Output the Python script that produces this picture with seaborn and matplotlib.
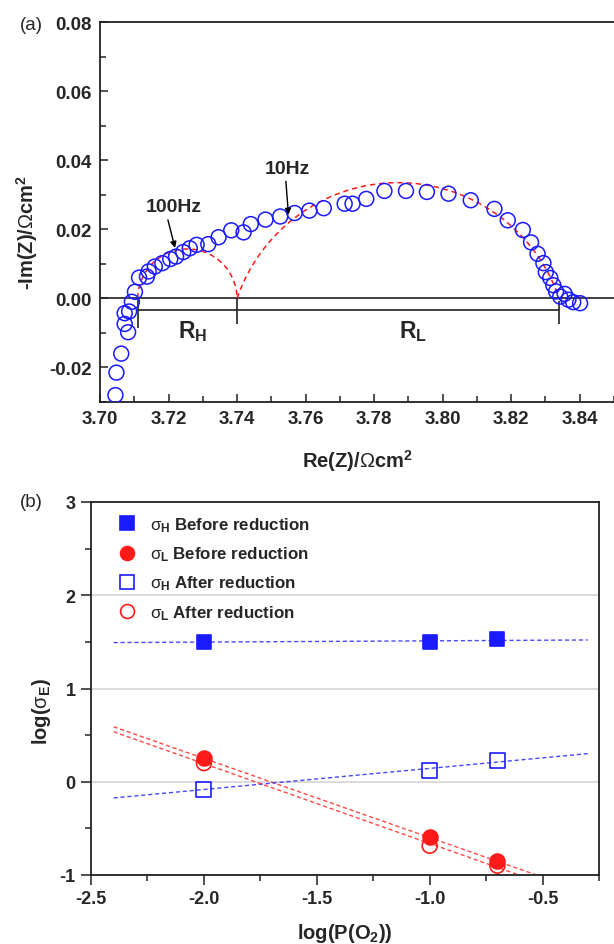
import numpy as np
import pandas as pd
import matplotlib
matplotlib.use("Agg")
import matplotlib.pyplot as plt
import seaborn as sns
from matplotlib.ticker import MultipleLocator, FormatStrFormatter
from matplotlib.lines import Line2D

# ---------------- Panel (a): impedance spectrum ----------------
re_z = [3.7045, 3.7048, 3.7062, 3.7082, 3.7072, 3.7072, 3.7085, 3.7093, 3.7102,
        3.7114, 3.7137, 3.7142, 3.7160, 3.7182, 3.7205, 3.7222, 3.7243, 3.7262,
        3.7282, 3.7316, 3.7346, 3.7383, 3.7419, 3.7440, 3.7483, 3.7526, 3.7568,
        3.7611, 3.7653, 3.7714, 3.7737, 3.7777, 3.7830, 3.7893, 3.7954, 3.8017,
        3.8082, 3.8151, 3.8190, 3.8234, 3.8258, 3.8277, 3.8294, 3.8301, 3.8314,
        3.8323, 3.8331, 3.8343, 3.8356, 3.8367, 3.8381, 3.8401]
neg_im_z = [-0.0280, -0.0215, -0.0160, -0.0098, -0.0074, -0.0043, -0.0038, -0.0010,
            0.0019, 0.0060, 0.0063, 0.0078, 0.0092, 0.0102, 0.0114, 0.0121, 0.0134,
            0.0145, 0.0155, 0.0157, 0.0177, 0.0197, 0.0191, 0.0215, 0.0228, 0.0237,
            0.0247, 0.0254, 0.0261, 0.0274, 0.0274, 0.0288, 0.0311, 0.0311, 0.0308,
            0.0303, 0.0284, 0.0259, 0.0226, 0.0198, 0.0162, 0.0129, 0.0102, 0.0076,
            0.0059, 0.0038, 0.0020, 0.0005, 0.0013, -0.0004, -0.0011, -0.0014]

# fitted arcs: left intercept, right intercept, arc height
arc_left = [3.711, 3.740]
arc_right = [3.740, 3.834]
arc_height = [0.0143, 0.0335]

freq_labels = ["100Hz", "10Hz"]
freq_tip_x = [3.7219, 3.7550]
freq_tip_y = [0.0146, 0.0242]
freq_text_x = [3.7216, 3.7548]
freq_text_y = [0.0265, 0.0377]
freq_relpos = [0.37, 0.45]

r_marks = [3.711, 3.740, 3.834]
r_bar_y = -0.0035
r_labels = [r"R$_{\mathbf{H}}$", r"R$_{\mathbf{L}}$"]
r_label_x = [3.7228, 3.7874]
r_label_y = -0.0112

# ---------------- Panel (b): conductivity vs pO2 ----------------
log_po2 = [-2.0, -1.0, -0.7]
sigH_before = [1.501, 1.497, 1.526]
sigL_before = [0.250, -0.597, -0.854]
sigH_after = [-0.079, 0.125, 0.225]
sigL_after = [0.200, -0.686, -0.900]
series_labels = [r"$\sigma_{\mathbf{H}}$ Before reduction",
                 r"$\sigma_{\mathbf{L}}$ Before reduction",
                 r"$\sigma_{\mathbf{H}}$ After reduction",
                 r"$\sigma_{\mathbf{L}}$ After reduction"]
fit_range = [-2.4, -0.3]

# ---------------- styling ----------------
sns.set_theme(style="ticks")
plt.rcParams["font.family"] = ["Liberation Sans", "DejaVu Sans"]
plt.rcParams["mathtext.fontset"] = "custom"
plt.rcParams["mathtext.rm"] = "Liberation Sans"
plt.rcParams["mathtext.it"] = "Liberation Sans"
plt.rcParams["mathtext.bf"] = "Liberation Sans:bold"
plt.rcParams["axes.edgecolor"] = "#222222"
plt.rcParams["axes.linewidth"] = 1.3

BLUE = "#1a1aff"
RED = "#ff1a1a"

fig = plt.figure(figsize=(6.14, 9.45), dpi=100)
axA = fig.add_axes([100 / 614, 1 - 403 / 945, 514 / 614, 380 / 945])
axB = fig.add_axes([91 / 614, 1 - 876 / 945, 508 / 614, 373 / 945])

# ---- panel (a)
for l, r, h in zip(arc_left, arc_right, arc_height):
    a = (r - l) / 2
    xc = (l + r) / 2
    rad = (a ** 2 + h ** 2) / (2 * h)
    yc = h - rad
    xs = np.linspace(l, r, 300)
    ys = yc + np.sqrt(np.clip(rad ** 2 - (xs - xc) ** 2, 0, None))
    sns.lineplot(x=xs, y=ys, ax=axA, color=RED, lw=1.1, linestyle=(0, (3.5, 2.5)),
                 estimator=None, sort=False, zorder=2)

dfA = pd.DataFrame({"re": re_z, "im": neg_im_z})
sns.scatterplot(data=dfA, x="re", y="im", ax=axA, marker="o", s=115,
                facecolor="none", edgecolor=BLUE, linewidth=1.1, zorder=3)

axA.axhline(0, color="#222222", lw=1.2, zorder=1)
axA.plot([r_marks[0], r_marks[-1]], [r_bar_y, r_bar_y], color="#222222", lw=1.2)
axA.vlines(r_marks, [-0.0085, -0.0075, -0.0075], [0.0, 0.0, -0.0007], color="#222222", lw=1.2)
for lab, lx in zip(r_labels, r_label_x):
    axA.text(lx, r_label_y, lab, fontsize=16.5, fontweight="bold", ha="left", va="baseline")

for lab, tx, ty, px, py, rp in zip(freq_labels, freq_text_x, freq_text_y,
                                   freq_tip_x, freq_tip_y, freq_relpos):
    axA.annotate(lab, xy=(px, py), xytext=(tx, ty), fontsize=14, fontweight="bold",
                 ha="center", va="center",
                 arrowprops=dict(arrowstyle="-|>", color="black", lw=1.0,
                                 mutation_scale=9, shrinkA=1, shrinkB=0, relpos=(rp, 0.0)))

axA.set_xlim(3.70, 3.85)
axA.set_ylim(-0.03, 0.08)
axA.xaxis.set_major_locator(MultipleLocator(0.02))
axA.xaxis.set_minor_locator(MultipleLocator(0.01))
axA.yaxis.set_major_locator(MultipleLocator(0.02))
axA.yaxis.set_minor_locator(MultipleLocator(0.01))
axA.xaxis.set_major_formatter(FormatStrFormatter("%.2f"))
axA.yaxis.set_major_formatter(FormatStrFormatter("%.2f"))
axA.tick_params(which="both", direction="in", width=1.1, color="#222222")
axA.tick_params(which="major", length=6, labelsize=13.5, pad=6)
axA.tick_params(which="minor", length=4)
axA.spines["right"].set_visible(False)
for t in axA.get_xticklabels() + axA.get_yticklabels():
    t.set_fontweight("bold")
axA.set_xlabel(r"Re(Z)/$\Omega$cm$^{\mathbf{2}}$", fontsize=14.5, fontweight="bold")
axA.set_ylabel(r"-Im(Z)/$\Omega$cm$^{\mathbf{2}}$", fontsize=14.5, fontweight="bold")
axA.xaxis.set_label_coords(0.50, -0.12)
axA.yaxis.set_label_coords(-0.142, 0.45)
axA.yaxis.label.set_va("center")

# ---- panel (b)
axB.yaxis.grid(True, which="major", color="#d4d4d4", lw=1.2, zorder=0)
axB.set_axisbelow(True)

series = [
    (sigH_before, "s", BLUE, True),
    (sigL_before, "o", RED, True),
    (sigH_after, "s", BLUE, False),
    (sigL_after, "o", RED, False),
]
xfit = np.array(fit_range)
handles = []
for (vals, mk, col, filled), lab in zip(series, series_labels):
    k, b = np.polyfit(log_po2, vals, 1)
    sns.lineplot(x=xfit, y=k * xfit + b, ax=axB, color=col, lw=1.0, alpha=0.8,
                 linestyle=(0, (3, 2)), estimator=None, zorder=2)
    df = pd.DataFrame({"x": log_po2, "y": vals})
    sns.scatterplot(data=df, x="x", y="y", ax=axB, marker=mk, s=115,
                    facecolor=col if filled else "none", edgecolor=col,
                    linewidth=1.2, zorder=3)
    handles.append(Line2D([], [], linestyle="none", marker=mk, markersize=10,
                          markerfacecolor=col if filled else "none",
                          markeredgecolor=col, markeredgewidth=1.2))

axB.set_xlim(-2.5, -0.25)
axB.set_ylim(-1, 3)
axB.xaxis.set_major_locator(MultipleLocator(0.5))
axB.xaxis.set_minor_locator(MultipleLocator(0.25))
axB.yaxis.set_major_locator(MultipleLocator(1))
axB.yaxis.set_minor_locator(MultipleLocator(0.5))
axB.xaxis.set_major_formatter(FormatStrFormatter("%.1f"))
axB.yaxis.set_major_formatter(FormatStrFormatter("%d"))
axB.tick_params(which="both", direction="out", width=1.1, color="#222222")
axB.tick_params(which="major", length=7, labelsize=13, pad=4)
axB.tick_params(which="minor", length=4)
for t in axB.get_xticklabels() + axB.get_yticklabels():
    t.set_fontweight("bold")
axB.set_xlabel(r"log(P(O$_{\mathbf{2}}$))", fontsize=14.5, fontweight="bold")
axB.set_ylabel(r"log($\sigma_{\mathbf{E}}$)", fontsize=14.5, fontweight="bold")
axB.xaxis.set_label_coords(0.50, -0.153)
axB.xaxis.label.set_va("center")
axB.yaxis.set_label_coords(-0.098, 0.44)
axB.yaxis.label.set_va("center")

axB.legend(handles=handles, labels=series_labels, loc="upper left",
           bbox_to_anchor=(0.025, 1.005), frameon=False, handlelength=1.0,
           handletextpad=0.85, labelspacing=0.62,
           prop={"weight": "bold", "size": 12.2})

fig.text(20 / 614, 1 - 25 / 945, "(a)", fontsize=13.5, ha="left", va="center")
fig.text(20 / 614, 1 - 503 / 945, "(b)", fontsize=13.5, ha="left", va="center")

fig.savefig("out.png", dpi=100)
